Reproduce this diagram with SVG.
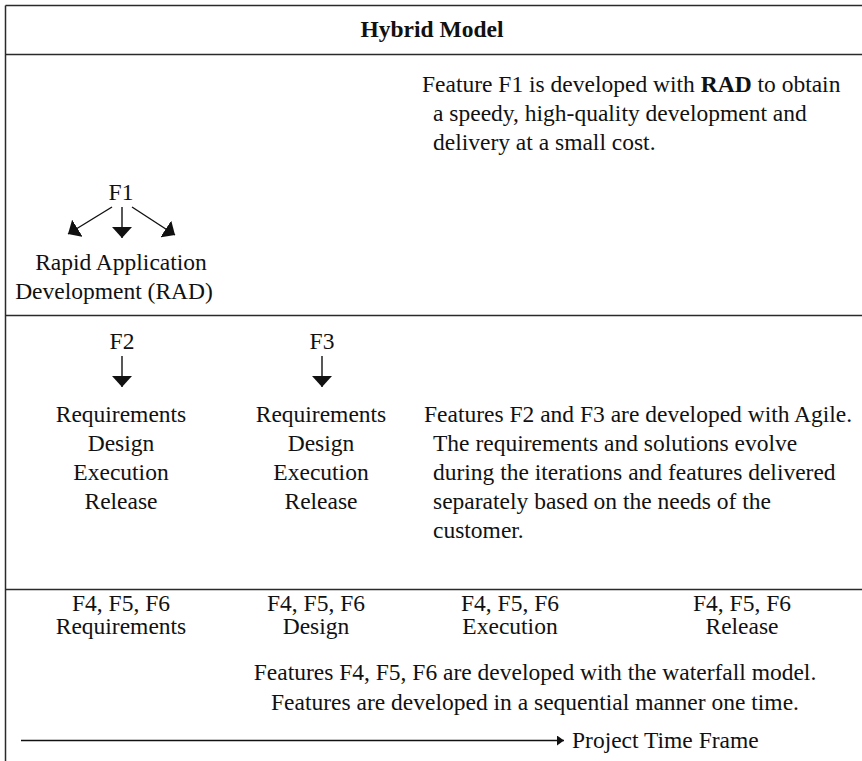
<svg xmlns="http://www.w3.org/2000/svg" width="862" height="761" viewBox="0 0 862 761">
  <style>
    .rule { stroke: #2a2a2a; stroke-width: 1.5; fill: none; }
    .t { font-family: "Liberation Serif", "Times New Roman", serif; font-size: 23.5px; fill: #111; }
    .c { text-anchor: middle; }
    .b { font-weight: bold; }
    .arrow { stroke: #111; stroke-width: 1.4; fill: none; }
  </style>
  <defs>
    <marker id="head" markerUnits="userSpaceOnUse" markerWidth="12" markerHeight="20" refX="11" refY="10" orient="auto">
      <path d="M0,0 L11,10 L0,20 z" fill="#111"/>
    </marker>
    <marker id="headSmall" markerUnits="userSpaceOnUse" markerWidth="8" markerHeight="10" refX="7" refY="5" orient="auto">
      <path d="M0,0 L7,5 L0,10 z" fill="#111"/>
    </marker>
  </defs>
  <rect width="862" height="761" fill="#fff"/>

  <!-- table frame and row separators -->
  <g id="frame">
    <line class="rule" x1="5.5" y1="5.5" x2="862" y2="5.5"/>
    <line class="rule" x1="5.5" y1="5.5" x2="5.5" y2="761"/>
    <line class="rule" x1="5.5" y1="54.5" x2="862" y2="54.5"/>
    <line class="rule" x1="5.5" y1="315.5" x2="862" y2="315.5"/>
    <line class="rule" x1="5.5" y1="589.5" x2="862" y2="589.5"/>
  </g>

  <g id="title">
    <text class="t c b" x="432" y="37">Hybrid Model</text>
  </g>

  <!-- RAD row -->
  <g id="rad-note">
    <text class="t" x="422" y="92">Feature F1 is developed with <tspan class="b">RAD</tspan> to obtain</text>
    <text class="t" x="433" y="121">a speedy, high-quality development and</text>
    <text class="t" x="433" y="150">delivery at a small cost.</text>
  </g>
  <g id="f1">
    <text class="t c" x="121" y="200">F1</text>
  </g>
  <g id="rad">
    <text class="t c" x="121" y="270">Rapid Application</text>
    <text class="t c" x="114" y="299">Development (RAD)</text>
  </g>

  <!-- Agile row -->
  <g id="f2">
    <text class="t c" x="122" y="349">F2</text>
  </g>
  <g id="f2-phases">
    <text class="t c" x="121" y="422">Requirements</text>
    <text class="t c" x="121" y="451">Design</text>
    <text class="t c" x="121" y="480">Execution</text>
    <text class="t c" x="121" y="509">Release</text>
  </g>
  <g id="f3">
    <text class="t c" x="322" y="349">F3</text>
  </g>
  <g id="f3-phases">
    <text class="t c" x="321" y="422">Requirements</text>
    <text class="t c" x="321" y="451">Design</text>
    <text class="t c" x="321" y="480">Execution</text>
    <text class="t c" x="321" y="509">Release</text>
  </g>
  <g id="agile-note">
    <text class="t" x="424" y="422">Features F2 and F3 are developed with Agile.</text>
    <text class="t" x="433" y="451">The requirements and solutions evolve</text>
    <text class="t" x="433" y="480">during the iterations and features delivered</text>
    <text class="t" x="433" y="509">separately based on the needs of the</text>
    <text class="t" x="433" y="538">customer.</text>
  </g>

  <!-- Waterfall row -->
  <g id="wf-requirements">
    <text class="t c" x="121" y="611">F4, F5, F6</text>
    <text class="t c" x="121" y="634">Requirements</text>
  </g>
  <g id="wf-design">
    <text class="t c" x="316" y="611">F4, F5, F6</text>
    <text class="t c" x="316" y="634">Design</text>
  </g>
  <g id="wf-execution">
    <text class="t c" x="510" y="611">F4, F5, F6</text>
    <text class="t c" x="510" y="634">Execution</text>
  </g>
  <g id="wf-release">
    <text class="t c" x="742" y="611">F4, F5, F6</text>
    <text class="t c" x="742" y="634">Release</text>
  </g>
  <g id="waterfall-note">
    <text class="t c" x="535" y="680">Features F4, F5, F6 are developed with the waterfall model.</text>
    <text class="t c" x="535" y="710">Features are developed in a sequential manner one time.</text>
  </g>
  <g id="time-frame">
    <text class="t" x="572" y="748">Project Time Frame</text>
  </g>

  <!-- connectors -->
  <g id="connectors">
    <line class="arrow" x1="112" y1="207" x2="68" y2="234" marker-end="url(#head)"/>
    <line class="arrow" x1="122" y1="207" x2="122" y2="238" marker-end="url(#head)"/>
    <line class="arrow" x1="132" y1="207" x2="175" y2="235" marker-end="url(#head)"/>
    <line class="arrow" x1="122" y1="356" x2="122" y2="387" marker-end="url(#head)"/>
    <line class="arrow" x1="322" y1="356" x2="322" y2="387" marker-end="url(#head)"/>
    <line class="arrow" x1="21" y1="740.5" x2="564" y2="740.5" marker-end="url(#headSmall)"/>
  </g>
</svg>
